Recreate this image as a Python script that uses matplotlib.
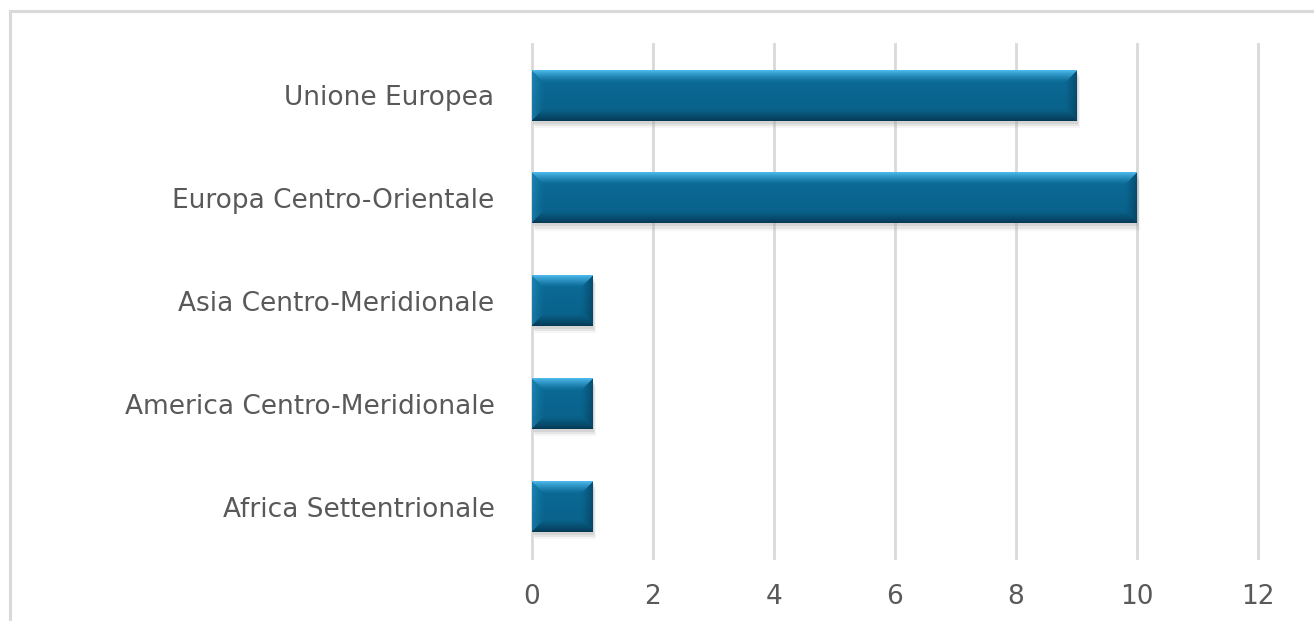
import numpy as np
import matplotlib
matplotlib.use("Agg")
import matplotlib.pyplot as plt
from matplotlib.patches import Rectangle

# dati
regioni = ["Africa Settentrionale", "America Centro-Meridionale",
           "Asia Centro-Meridionale", "Europa Centro-Orientale", "Unione Europea"]
valori = [1, 1, 1, 10, 9]
xticks = [0, 2, 4, 6, 8, 10, 12]

plt.rcParams['font.family'] = ['DejaVu Sans']
fig = plt.figure(figsize=(13.14, 6.21), dpi=100)
ax = fig.add_axes([532/1314, 1-558/621, 726/1314, 514/621])

# cornice grigia del grafico
fig.patches.append(Rectangle((10/1314, -0.1), 1.2, 1-11/621+0.1,
                             transform=fig.transFigure, fill=False,
                             edgecolor='#d9d9d9', linewidth=2.2))

y = np.arange(len(regioni))
ax.set_xlim(0, 12)
ax.set_ylim(-0.5, len(regioni)-0.5)
bars = ax.barh(y, valori, height=0.49, color='#0a6892', zorder=3)

base = np.array([10, 102, 144]) / 255
top_c = np.array([70, 172, 220]) / 255
bot_c = np.array([6, 62, 92]) / 255
left_c = np.array([25, 125, 170]) / 255
right_c = np.array([7, 75, 108]) / 255

for b in bars:
    x0, y0 = b.get_x(), b.get_y()
    w, h = b.get_width(), b.get_height()
    p0 = ax.transData.transform((x0, y0))
    p1 = ax.transData.transform((x0 + w, y0 + h))
    pw = int(round(p1[0] - p0[0]))
    ph = int(round(p1[1] - p0[1]))
    ii, jj = np.mgrid[0:ph, 0:pw]
    dt, db = ii, ph - 1 - ii
    dl, dr = jj, pw - 1 - jj
    d = np.stack([dt, db, dl, dr])
    which = np.argmin(d, axis=0)
    dmin = np.min(d, axis=0)
    t = 12.0
    f = np.clip(1 - dmin / t, 0, 1)[..., None] ** 1.3
    cols = np.stack([top_c, bot_c, left_c, right_c])[which]
    img = base * (1 - f) + cols * f
    g = (ii / max(ph - 1, 1))[..., None]
    img = img * (1.06 - 0.12 * g)
    img = np.clip(img, 0, 1)
    # ombra morbida
    for k, a in enumerate([0.25, 0.18, 0.1]):
        ax.add_patch(Rectangle((x0 + 0.02 + 0.015 * k, y0 - 0.03 - 0.02 * k), w, h,
                               color='#a0a0a0', alpha=a, zorder=2, linewidth=0))
    ax.imshow(img, extent=(x0, x0 + w, y0, y0 + h), origin='upper',
              aspect='auto', zorder=4, interpolation='bilinear')

ax.set_xlim(0, 12)
ax.set_ylim(-0.5, len(regioni)-0.5)
ax.set_yticks(y)
ax.set_yticklabels(regioni)
ax.set_xticks(xticks)
ax.set_xticklabels([str(v) for v in xticks])
ax.tick_params(axis='y', length=0, pad=27, labelsize=19, labelcolor='#595959')
ax.tick_params(axis='x', length=0, pad=19, labelsize=19, labelcolor='#595959')
ax.grid(axis='x', color='#d9d9d9', linewidth=2, zorder=0)
for gl in ax.get_xgridlines():
    gl.set_clip_on(False)
ax.set_axisbelow(True)
for s in ax.spines.values():
    s.set_visible(False)

fig.savefig("out.png", dpi=100)
